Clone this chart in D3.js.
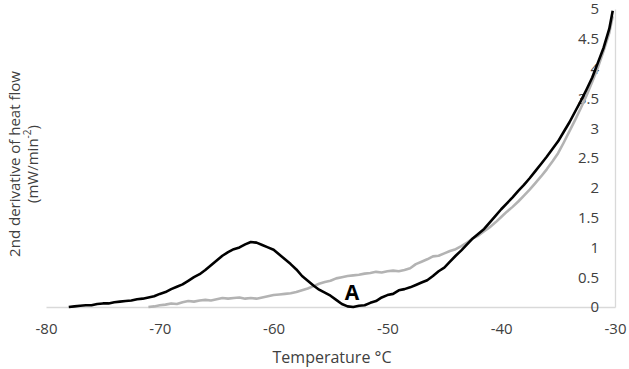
<!DOCTYPE html>
<html><head><meta charset="utf-8">
<script src="https://cdn.jsdelivr.net/npm/d3@7"></script>
<style>
body{margin:0;background:#fff;}
text{font-family:"Open Sans",sans-serif;fill:#404040;}
</style></head>
<body>
<svg id="chart" width="629" height="369"></svg>
<script>
const xTicks = [-80,-70,-60,-50,-40,-30];
const yTicks = [0,0.5,1,1.5,2,2.5,3,3.5,4,4.5,5];
const tickLabelsY = ["0","0.5","1","1.5","2","2.5","3","3.5","4","4.5","5"];

const blackT = [-78,-77.5,-77,-76.5,-76,-75.5,-75,-74.5,-74,-73.5,-73,-72.5,-72,-71.5,-71,-70.5,-70,-69.5,-69,-68.5,-68,-67.5,-67,-66.5,-66,-65.5,-65,-64.5,-64,-63.5,-63,-62.5,-62,-61.5,-61,-60.5,-60,-59.5,-59,-58.5,-58,-57.5,-57,-56.5,-56,-55.5,-55,-54.5,-54,-53.5,-53,-52.5,-52,-51.5,-51,-50.5,-50,-49.5,-49,-48.5,-48,-47.5,-47,-46.5,-46,-45.5,-45,-44.5,-44,-43.5,-43,-42.5,-42,-41.5,-41,-40.5,-40,-39.5,-39,-38.5,-38,-37.5,-37,-36.5,-36,-35.5,-35,-34.5,-34,-33.5,-33,-32.5,-32,-31.5,-31,-30.5,-30.2];
const blackV = [0,0.01,0.02,0.03,0.03,0.05,0.06,0.06,0.08,0.09,0.1,0.11,0.13,0.14,0.16,0.18,0.22,0.25,0.3,0.34,0.38,0.44,0.5,0.55,0.62,0.7,0.78,0.86,0.92,0.97,1.0,1.05,1.09,1.08,1.04,1.0,0.96,0.88,0.8,0.72,0.63,0.52,0.44,0.36,0.29,0.24,0.19,0.12,0.05,0.01,0.0,0.02,0.03,0.07,0.1,0.16,0.2,0.22,0.28,0.3,0.33,0.37,0.41,0.45,0.52,0.6,0.66,0.76,0.86,0.95,1.05,1.15,1.23,1.31,1.42,1.53,1.64,1.74,1.84,1.95,2.05,2.16,2.28,2.4,2.52,2.65,2.78,2.94,3.1,3.28,3.46,3.65,3.85,4.1,4.35,4.67,4.97];

const grayT = [-71,-70.5,-70,-69.5,-69,-68.5,-68,-67.5,-67,-66.5,-66,-65.5,-65,-64.5,-64,-63.5,-63,-62.5,-62,-61.5,-61,-60.5,-60,-59.5,-59,-58.5,-58,-57.5,-57,-56.5,-56,-55.5,-55,-54.5,-54,-53.5,-53,-52.5,-52,-51.5,-51,-50.5,-50,-49.5,-49,-48.5,-48,-47.5,-47,-46.5,-46,-45.5,-45,-44.5,-44,-43.5,-43,-42.5,-42,-41.5,-41,-40.5,-40,-39.5,-39,-38.5,-38,-37.5,-37,-36.5,-36,-35.5,-35,-34.5,-34,-33.5,-33,-32.5,-32,-31.5,-31,-30.5,-30.2];
const grayV = [0.0,0.01,0.03,0.04,0.06,0.05,0.08,0.1,0.09,0.11,0.12,0.11,0.13,0.15,0.14,0.15,0.16,0.14,0.15,0.14,0.16,0.18,0.2,0.21,0.22,0.23,0.25,0.28,0.31,0.35,0.39,0.42,0.44,0.48,0.5,0.52,0.53,0.54,0.56,0.57,0.59,0.58,0.6,0.61,0.6,0.62,0.65,0.72,0.76,0.8,0.85,0.86,0.9,0.94,0.97,1.02,1.08,1.15,1.2,1.27,1.34,1.42,1.51,1.6,1.68,1.77,1.87,1.97,2.08,2.19,2.31,2.44,2.58,2.76,2.95,3.14,3.34,3.55,3.78,4.02,4.3,4.6,4.88];

const svg = d3.select("#chart");
const x = d3.scaleLinear().domain([-80,-30]).range([46,615]);
const y = d3.scaleLinear().domain([0,5]).range([307,9]);

// axes
const xAxis = svg.append("g").attr("transform","translate(0,307)")
  .call(d3.axisBottom(x).tickValues(xTicks).tickSize(0).tickPadding(16).tickFormat(d=>String(d)));
xAxis.select(".domain").attr("stroke","#d9d9d9").attr("stroke-width",1.3);
xAxis.selectAll("text").attr("font-size",15).attr("fill","#404040").attr("font-family","Open Sans, sans-serif");

const yAxis = svg.append("g").attr("transform","translate(615,0)")
  .call(d3.axisLeft(y).tickValues(yTicks).tickSize(0).tickPadding(16).tickFormat((d,i)=>tickLabelsY[i]));
yAxis.select(".domain").attr("stroke","#d9d9d9").attr("stroke-width",1.3);
yAxis.selectAll("text").attr("font-size",15).attr("fill","#404040").attr("font-family","Open Sans, sans-serif");

const line = d3.line().x(d=>x(d[0])).y(d=>y(d[1]));
svg.append("path").datum(d3.zip(grayT,grayV)).attr("d",line)
  .attr("fill","none").attr("stroke","#b3b3b3").attr("stroke-width",2.6).attr("stroke-linejoin","round");
svg.append("path").datum(d3.zip(blackT,blackV)).attr("d",line)
  .attr("fill","none").attr("stroke","#000").attr("stroke-width",2.6).attr("stroke-linejoin","round");

// annotation
svg.append("text").attr("x",x(-53.1)).attr("y",y(0.117)).attr("text-anchor","middle")
  .attr("font-size",21).attr("font-weight","bold").style("fill","#000")
  .attr("font-family","Liberation Sans, Arial, sans-serif").text("A");

// axis titles
svg.append("text").attr("x",332).attr("y",363).attr("text-anchor","middle")
  .attr("font-size",16).text("Temperature °C");

const yl = svg.append("text").attr("transform","translate(0,164) rotate(-90)").attr("text-anchor","middle").attr("font-size",15);
yl.append("tspan").attr("x",0).attr("y",20).text("2nd derivative of heat flow");
const t2 = yl.append("tspan").attr("x",0).attr("y",38);
t2.append("tspan").text("(mW/min");
t2.append("tspan").attr("baseline-shift","super").attr("font-size",10).text("-2");
t2.append("tspan").text(")");
</script>
</body></html>
